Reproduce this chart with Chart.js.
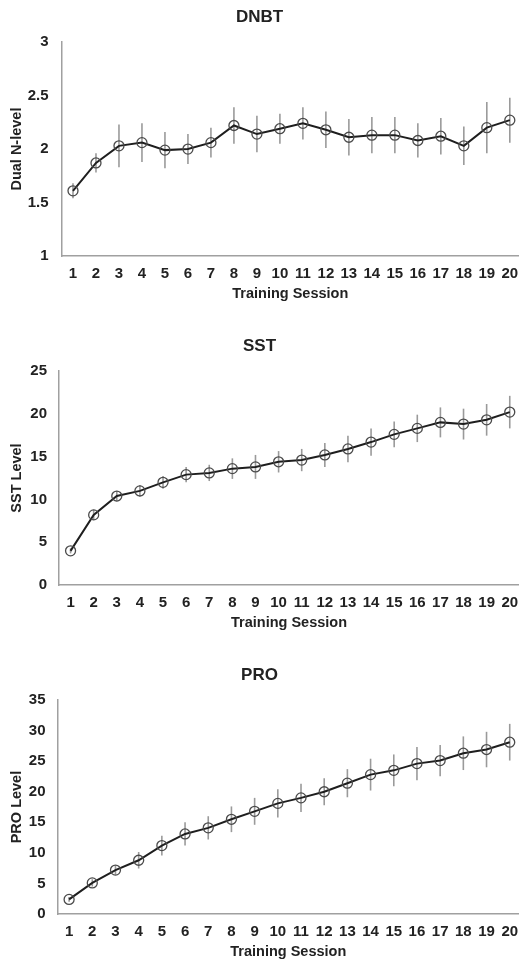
<!DOCTYPE html>
<html>
<head>
<meta charset="utf-8">
<script src="https://cdn.jsdelivr.net/npm/chart.js@4.4.1/dist/chart.umd.min.js"></script>
<style>
  body { margin: 0; background: #fff; overflow: hidden; }
  .box { position: absolute; left: 0; width: 519px; height: 303px; }
</style>
</head>
<body>
<div class="box" style="top:0px"><canvas id="c1" width="519" height="303"></canvas></div>
<div class="box" style="top:329px"><canvas id="c2" width="519" height="303"></canvas></div>
<div class="box" style="top:658px"><canvas id="c3" width="519" height="303"></canvas></div>
<script>
var sessions = [1,2,3,4,5,6,7,8,9,10,11,12,13,14,15,16,17,18,19,20];

var dnbtMean = [1.61,1.87,2.03,2.06,1.99,2.00,2.06,2.22,2.14,2.19,2.24,2.18,2.11,2.13,2.13,2.08,2.12,2.03,2.20,2.27];
var dnbtErr  = [0.07,0.09,0.20,0.18,0.17,0.14,0.14,0.17,0.17,0.14,0.15,0.17,0.17,0.17,0.17,0.16,0.17,0.18,0.24,0.21];

var sstMean = [4.0,8.2,10.4,11.0,12.0,12.9,13.1,13.6,13.8,14.4,14.6,15.2,15.9,16.7,17.6,18.3,19.0,18.8,19.3,20.2];
var sstErr  = [0.3,0.6,0.6,0.7,0.75,0.9,0.95,1.2,1.4,1.25,1.3,1.4,1.55,1.6,1.5,1.6,1.75,1.8,1.85,1.9];

var proMean = [2.4,5.1,7.2,8.8,11.2,13.1,14.1,15.5,16.8,18.1,19.0,20.0,21.4,22.8,23.5,24.6,25.1,26.3,26.9,28.1];
var proErr  = [0.4,0.6,0.75,1.35,1.6,1.9,1.9,2.1,2.2,2.3,2.3,2.2,2.3,2.6,2.6,2.7,2.55,2.75,2.9,3.0];

var fontFam = "'Liberation Sans', Arial, Helvetica, sans-serif";

// vertical error bars, drawn under the line
var errorBars = {
	id: 'errorBars',
	beforeDatasetsDraw: function(chart) {
		var ctx = chart.ctx;
		var xs = chart.scales.x, ys = chart.scales.y;
		var err = chart.options.plugins.errorBars.err;
		var pts = chart.data.datasets[0].data;
		ctx.save();
		ctx.strokeStyle = '#9a9a9a';
		ctx.lineWidth = 1.6;
		for (var i = 0; i < pts.length; i++) {
			var x = xs.getPixelForValue(pts[i].x);
			ctx.beginPath();
			ctx.moveTo(x, ys.getPixelForValue(pts[i].y + err[i]));
			ctx.lineTo(x, ys.getPixelForValue(pts[i].y - err[i]));
			ctx.stroke();
		}
		ctx.restore();
	}
};

function makeChart(id, title, yTitle, means, errs, yMin, yMax, yStep, yWidth, yPad) {
	var pts = [];
	for (var i in sessions) {
		pts.push({x: sessions[i], y: means[i]});
	}

	return new Chart(document.getElementById(id), {
		type: 'line',
		data: {
			datasets: [{
				data: pts,
				borderColor: '#1e1e1e',
				borderWidth: 2,
				tension: 0,
				clip: false,
				pointRadius: 5,
				pointBorderWidth: 1.3,
				pointBorderColor: '#4a4a4a',
				pointBackgroundColor: 'rgba(255,255,255,0)'
			}]
		},
		options: {
			responsive: false,
			animation: false,
			layout: { autoPadding: false, padding: { left: 0, right: 0, top: 0, bottom: 0 } },
			plugins: {
				legend: { display: false },
				tooltip: { enabled: false },
				errorBars: { err: errs },
				title: {
					display: true,
					text: title,
					color: '#222',
					font: { family: fontFam, size: 17, weight: 'bold' },
					padding: { top: 7, bottom: 14.6 }
				}
			},
			scales: {
				x: {
					type: 'linear',
					min: 0.5,
					max: 20.4,
					afterBuildTicks: function(s) {
						s.ticks = sessions.map(function(v) { return {value: v}; });
					},
					afterFit: function(s) { s.paddingLeft = 0; s.paddingRight = 0; },
					grid: { display: false, drawTicks: false },
					border: { display: true, color: '#a0a0a0', width: 1.5 },
					ticks: {
						color: '#222',
						padding: 9,
						maxRotation: 0,
						autoSkip: false,
						font: { family: fontFam, size: 15, weight: 'bold' }
					},
					title: {
						display: true,
						text: 'Training Session',
						color: '#222',
						font: { family: fontFam, size: 14.5, weight: 'bold' },
						padding: { top: -6.5, bottom: 0 }
					}
				},
				y: {
					min: yMin,
					max: yMax,
					afterFit: function(s) { s.width = yWidth; },
					grid: { display: false, drawTicks: false },
					border: { display: true, color: '#a0a0a0', width: 1.5 },
					ticks: {
						stepSize: yStep,
						color: '#222',
						padding: yPad,
						font: { family: fontFam, size: 15, weight: 'bold' },
						callback: function(v) { return String(v); }
					},
					title: {
						display: true,
						text: yTitle,
						color: '#222',
						font: { family: fontFam, size: 14.5, weight: 'bold' },
						padding: { top: 8, bottom: 0 }
					}
				}
			}
		},
		plugins: [errorBars]
	});
}

makeChart('c1', 'DNBT', 'Dual N-level', dnbtMean, dnbtErr, 1, 3, 0.5, 61.5, 13);
makeChart('c2', 'SST', 'SST Level', sstMean, sstErr, 0, 25, 5, 59, 12);
makeChart('c3', 'PRO', 'PRO Level', proMean, proErr, 0, 35, 5, 57.5, 12);
</script>
</body>
</html>
